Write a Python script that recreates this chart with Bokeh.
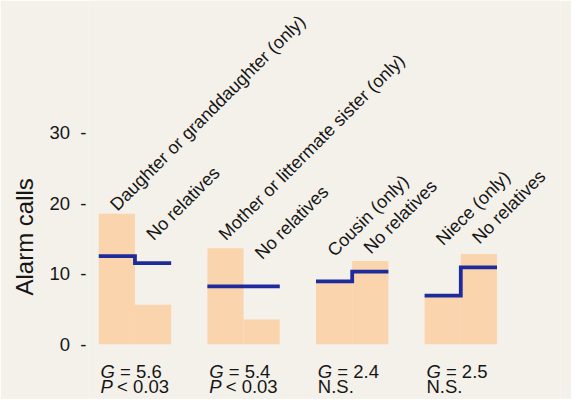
import math
from bokeh.plotting import figure
from bokeh.models import ColumnDataSource, FixedTicker, Range1d, Title
from bokeh.core.properties import value
from bokeh.embed import file_html
from bokeh.resources import INLINE

# ---- data ----
kin_labels = ["Daughter or granddaughter (only)", "Mother or littermate sister (only)",
              "Cousin (only)", "Niece (only)"]
norel_label = "No relatives"
kin_calls = [18.5, 13.6, 8.9, 6.8]          # observed, with the relative
norel_calls = [5.6, 3.5, 11.8, 12.8]        # observed, no relatives
kin_expected = [12.5, 8.2, 8.9, 6.9]        # blue step line, left half
norel_expected = [11.5, 8.2, 10.3, 10.9]    # blue step line, right half
g_values = ["= 5.6", "= 5.4", "= 2.4", "= 2.5"]
p_values = ["< 0.03", "< 0.03", None, None]
y_ticks = [0, 10, 20, 30]
y_title = "Alarm calls"

# ---- layout (not data) ----
group_left = [3 * i for i in range(len(kin_labels))]
label_y_kin = [19.4, 15.2, 12.9, 14.5]
label_y_norel = [15.2, 12.5, 13.3, 14.7]

BG = "#f4f1eb"
BAR = "#fad4ad"
BLUE = "#1e2b9c"
TXT = "#161616"
FONT = "Liberation Sans"
FS = "18.5px"

p = figure(width=571, height=399, output_backend="svg", toolbar_location=None,
           x_range=Range1d(-0.256, 12.754), y_range=Range1d(-7.85, 48.77),
           min_border_left=88, min_border_right=11, min_border_top=0, min_border_bottom=0)
p.background_fill_color = BG
p.border_fill_color = BG
p.outline_line_color = None
p.grid.visible = False
p.xaxis.visible = False

# bars
bar_src = ColumnDataSource(dict(
    left=[g for g in group_left] + [g + 1 for g in group_left],
    right=[g + 1 for g in group_left] + [g + 2 for g in group_left],
    top=kin_calls + norel_calls,
))
p.quad(left="left", right="right", bottom=0, top="top", source=bar_src,
       fill_color=BAR, line_color=None)

# expected step lines
xs, ys = [], []
for g, a, b in zip(group_left, kin_expected, norel_expected):
    xs.append([g, g + 1, g + 1, g + 2])
    ys.append([a, a, b, b])
p.multi_line(xs=xs, ys=ys, line_color=BLUE, line_width=3.8, line_join="miter")

# rotated category labels
lab_src = ColumnDataSource(dict(
    x=[g + 0.4 for g in group_left] + [g + 1.4 for g in group_left],
    y=label_y_kin + label_y_norel,
    t=kin_labels + [norel_label] * len(kin_labels),
))
p.text(x="x", y="y", text="t", source=lab_src, angle=math.pi / 4,
       text_align="left", text_baseline="alphabetic", text_color=TXT,
       text_font=value(FONT), text_font_size="18px")

# statistics below groups
gx = [g + 0.05 for g in group_left]
p.text(x=gx, y=[-3.89] * 4, text=["G"] * 4, text_font=value(FONT),
       text_font_style="italic", text_font_size=FS, text_color=TXT,
       text_align="left", text_baseline="alphabetic")
p.text(x=gx, y=[-3.89] * 4, text=g_values, x_offset=19.5, text_font=value(FONT),
       text_font_size=FS, text_color=TXT, text_align="left",
       text_baseline="alphabetic")
px_sig = [x for x, pv in zip(gx, p_values) if pv]
pv_sig = [pv for pv in p_values if pv]
px_ns = [x for x, pv in zip(gx, p_values) if not pv]
p.text(x=px_sig, y=[-6.07] * len(px_sig), text=["P"] * len(px_sig), text_font=value(FONT),
       text_font_style="italic", text_font_size=FS, text_color=TXT,
       text_align="left", text_baseline="alphabetic")
p.text(x=px_sig, y=[-6.07] * len(px_sig), text=pv_sig, x_offset=16.5, text_font=value(FONT),
       text_font_size=FS, text_color=TXT, text_align="left",
       text_baseline="alphabetic")
p.text(x=px_ns, y=[-6.07] * len(px_ns), text=["N.S."] * len(px_ns), text_font=value(FONT),
       text_font_size=FS, text_color=TXT, text_align="left",
       text_baseline="alphabetic")

# y axis
ax = p.yaxis[0]
ax.ticker = FixedTicker(ticks=y_ticks)
ax.major_label_overrides = {t: f"{t}\u00a0 -" for t in y_ticks}
ax.axis_line_color = None
ax.major_tick_line_color = None
ax.minor_tick_line_color = None
ax.major_tick_out = 0
ax.major_tick_in = 0
ax.major_label_standoff = 3
ax.major_label_text_font = FONT
ax.major_label_text_font_size = FS
ax.major_label_text_color = TXT

# y-axis title, placed over the 0..31 span as in the reference
p.add_layout(Title(text=y_title, align="left", offset=104, standoff=17,
                   text_font=FONT, text_font_size="24px", text_font_style="normal",
                   text_color=TXT), "left")

open("out.html", "w").write(file_html(p, INLINE))
